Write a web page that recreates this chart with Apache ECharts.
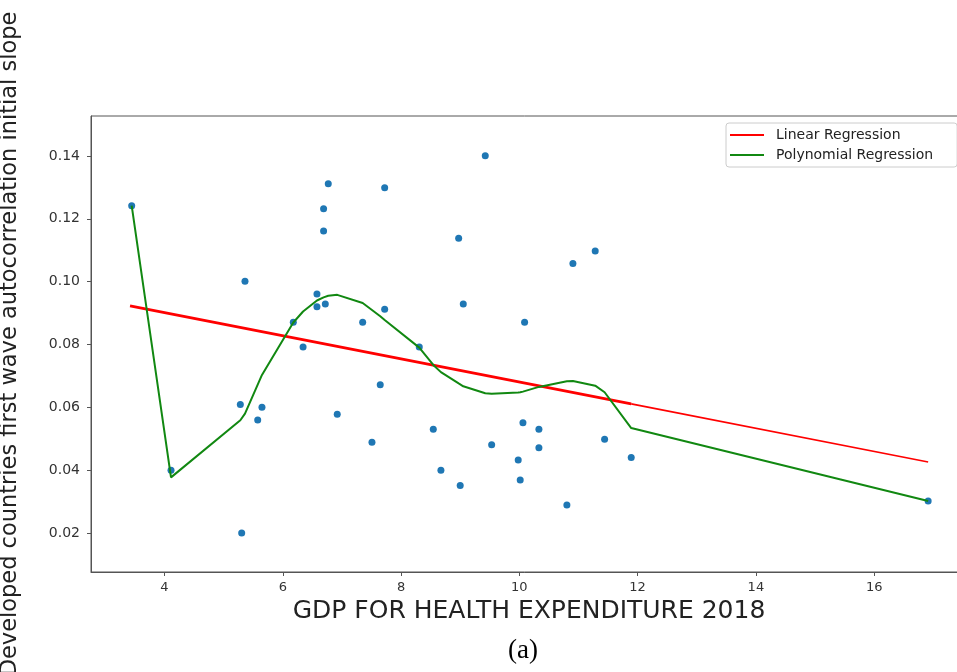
<!DOCTYPE html>
<html>
<head>
<meta charset="utf-8">
<script src="https://cdn.jsdelivr.net/npm/echarts@6/dist/echarts.min.js"></script>
<style>
html,body{margin:0;padding:0;background:#fff;}
#chart{width:957px;height:672px;}
</style>
</head>
<body>
<div id="chart"></div>
<script>
// Scatter data: GDP for health expenditure vs. initial slope
const scatterX = [3.445, 4.11, 5.282, 5.305, 5.361, 5.576, 5.648, 6.178, 6.343, 6.578, 6.578, 6.69, 6.69, 6.719, 6.769, 6.921, 7.351, 7.508, 7.648, 7.723, 7.723, 8.308, 8.545, 8.674, 8.974, 9.0, 9.052, 9.424, 9.532, 9.981, 10.015, 10.061, 10.089, 10.331, 10.331, 10.804, 10.906, 11.283, 11.442, 11.892, 16.913];
const scatterY = [0.1242, 0.0400, 0.0609, 0.0200, 0.1001, 0.0560, 0.0600, 0.0871, 0.0792, 0.0961, 0.0920, 0.1232, 0.1161, 0.0929, 0.1312, 0.0578, 0.0871, 0.0489, 0.0672, 0.1299, 0.0912, 0.0792, 0.0530, 0.0400, 0.1138, 0.0351, 0.0929, 0.1401, 0.0481, 0.0432, 0.0369, 0.0551, 0.0871, 0.0530, 0.0471, 0.0289, 0.1058, 0.1098, 0.0498, 0.0440, 0.0302];

// Linear regression line (read endpoints)
const linX = [3.417, 11.892, 16.913];
const linY = [0.0923, 0.0611, 0.0426];

// Polynomial regression curve (read at sorted x)
const polyX = [3.445, 4.11, 5.282, 5.305, 5.361, 5.576, 5.648, 6.178, 6.343, 6.578, 6.69, 6.719, 6.769, 6.921, 7.351, 7.508, 7.648, 7.723, 8.308, 8.545, 8.674, 8.974, 9.0, 9.052, 9.424, 9.532, 9.981, 10.015, 10.061, 10.089, 10.331, 10.804, 10.906, 11.283, 11.442, 11.892, 16.913];
const polyY = [0.1242, 0.0377, 0.0559, 0.0565, 0.0580, 0.0672, 0.0703, 0.0870, 0.0905, 0.0940, 0.0950, 0.0952, 0.0955, 0.0958, 0.0932, 0.0910, 0.0890, 0.0878, 0.0790, 0.0735, 0.0712, 0.0676, 0.0673, 0.0667, 0.0645, 0.0643, 0.0647, 0.0648, 0.0650, 0.0651, 0.0665, 0.0683, 0.0684, 0.0669, 0.0648, 0.0534, 0.0302];

const xTicks = [4, 6, 8, 10, 12, 14, 16];
const yTicks = [0.02, 0.04, 0.06, 0.08, 0.10, 0.12, 0.14];

const zip = (a, b) => a.map((v, i) => [v, b[i]]);

const chart = echarts.init(document.getElementById('chart'), null, {renderer: 'canvas'});
const FONT = 'DejaVu Sans';
chart.setOption({
  animation: false,
  backgroundColor: '#fff',
  title: {
    text: '(a)', left: 508, top: 637, padding: 0,
    textStyle: {fontFamily: 'Liberation Serif', fontWeight: 'normal', fontSize: 27, color: '#000'}
  },
  grid: {left: 91, top: 116, width: 876, height: 456, outerBoundsMode: 'none', containLabel: false,
    show: true, borderColor: '#555', borderWidth: 1, backgroundColor: '#fff'},
  legend: {
    orient: 'vertical', left: 726, top: 123,
    padding: [5, 24, 5, 4], itemGap: 6,
    itemWidth: 34, itemHeight: 2,
    backgroundColor: '#fff', borderColor: '#ccc', borderWidth: 1, borderRadius: 3,
    textStyle: {fontFamily: FONT, fontSize: 14, color: '#222', padding: [0, 0, 0, 7]},
    data: [{name: 'Linear Regression', icon: 'rect'}, {name: 'Polynomial Regression', icon: 'rect'}]
  },
  xAxis: {
    type: 'value', min: 2.757, max: 17.57,
    name: 'GDP FOR HEALTH EXPENDITURE 2018', nameLocation: 'middle', nameGap: 27,
    nameTextStyle: {fontFamily: FONT, fontSize: 25, color: '#222'},
    axisLine: {show: true, lineStyle: {color: '#555', width: 1}},
    axisTick: {show: true, length: 4, lineStyle: {color: '#555'}, customValues: xTicks},
    axisLabel: {fontFamily: FONT, fontSize: 13, color: '#333', margin: 9, customValues: xTicks},
    splitLine: {show: false}
  },
  yAxis: {
    type: 'value', min: 0.00758, max: 0.15274,
    name: 'Developed countries first wave autocorrelation initial slope', nameLocation: 'middle', nameGap: 69,
    nameTextStyle: {fontFamily: FONT, fontSize: 22.5, color: '#222'},
    axisLine: {show: true, lineStyle: {color: '#555', width: 1}},
    axisTick: {show: true, length: 4, lineStyle: {color: '#555'}, customValues: yTicks},
    axisLabel: {fontFamily: FONT, fontSize: 14, color: '#333', margin: 11, customValues: yTicks,
      formatter: v => v.toFixed(2)},
    splitLine: {show: false}
  },
  series: [
    {
      type: 'scatter', name: 'data', symbolSize: 7,
      itemStyle: {color: '#1f77b4', opacity: 1},
      data: zip(scatterX, scatterY)
    },
    {
      type: 'line', name: 'Linear Regression', showSymbol: false, symbol: 'none',
      color: '#ff0000', lineStyle: {color: '#ff0000', width: 2.8},
      data: zip(linX.slice(0, 2), linY.slice(0, 2))
    },
    {
      type: 'line', name: 'Linear Regression', showSymbol: false, symbol: 'none',
      color: '#ff0000', lineStyle: {color: '#ff0000', width: 1.6},
      data: zip(linX.slice(1), linY.slice(1))
    },
    {
      type: 'line', name: 'Polynomial Regression', showSymbol: false, symbol: 'none',
      color: '#118811', lineStyle: {color: '#118811', width: 2},
      data: zip(polyX, polyY)
    }
  ]
});
</script>
</body>
</html>
